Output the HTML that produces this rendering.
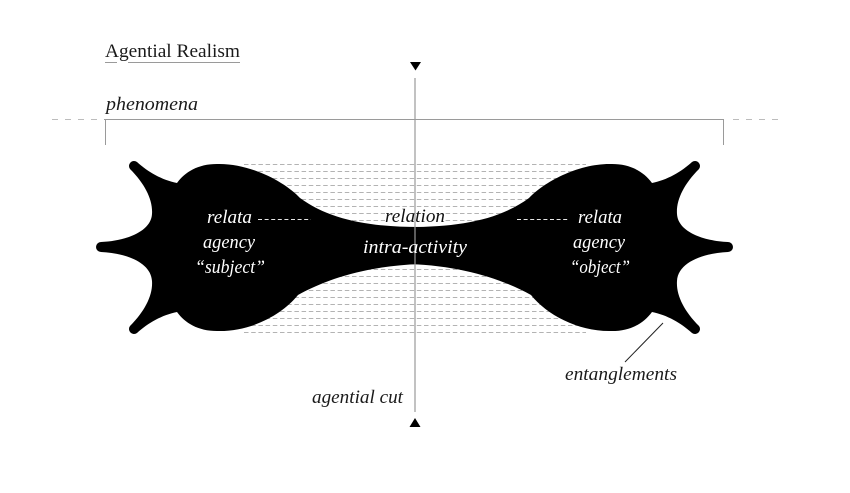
<!DOCTYPE html>
<html>
<head>
<meta charset="utf-8">
<style>
html,body{margin:0;padding:0;background:#fff;}
svg{display:block;}
text{font-family:"Liberation Serif","DejaVu Serif",serif;}
.it{font-style:italic;font-size:19px;}
</style>
</head>
<body>
<svg width="850" height="493" viewBox="0 0 850 493" xmlns="http://www.w3.org/2000/svg">
<defs>
<path id="half" d="M420,227 C370,227 330,220 300,198 C285,182 250,163 217,164 C198,164 185,172 177,183 C162,180 148,172 137,162 A5,5 0 0 0 130,169 C145,184 153,200 152,214 C151,232 125,241 101,242 A5,5 0 0 0 101,252 C125,253 151,262 152,281 C153,295 145,311 130,326 A5,5 0 0 0 137,333 C148,323 162,315 177,312 C185,323 198,331 217,331 C250,332 282,315 298,295 C325,280 365,266 420,264 Z"/>
</defs>

<!-- title -->
<text x="105" y="57" font-size="19" fill="#1a1a1a" textLength="135" lengthAdjust="spacingAndGlyphs">Agential Realism</text>
<path d="M105,62.5H117M128,62.5H240" stroke="#9a9a9a" stroke-width="1" fill="none"/>

<!-- phenomena -->
<text class="it" x="106" y="110" fill="#1a1a1a" textLength="92" lengthAdjust="spacingAndGlyphs">phenomena</text>
<path d="M104,119.5H724" stroke="#9a9a9a" stroke-width="1"/>
<path d="M52,119.5H100" stroke="#bcbcbc" stroke-width="1" stroke-dasharray="6 7"/>
<path d="M733,119.5H778" stroke="#bcbcbc" stroke-width="1" stroke-dasharray="6 7"/>
<path d="M105.5,119V145M723.5,119V145" stroke="#9a9a9a" stroke-width="1"/>

<!-- background dashed lines -->
<path stroke="#b3b3b3" stroke-width="1" stroke-dasharray="4.5 2.7" fill="none"
d="M244,164.5H586M244,171.5H586M244,178.5H586M244,185.5H586M244,192.5H586M244,199.5H586M244,206.5H586M244,213.5H586M244,220.5H586M244,227.5H586M244,234.5H586M244,241.5H586M244,248.5H586M244,255.5H586M244,262.5H586M244,269.5H586M244,276.5H586M244,283.5H586M244,290.5H586M244,297.5H586M244,304.5H586M244,311.5H586M244,318.5H586M244,325.5H586M244,332.5H586"/>

<!-- black shape -->
<use href="#half" fill="#000"/>
<use href="#half" fill="#000" transform="translate(829,0) scale(-1,1)"/>

<!-- knockout behind relation -->
<rect x="385" y="209" width="60" height="14" fill="#fff"/>

<!-- vertical cut line -->
<path d="M415,78V412" stroke="#9a9a9a" stroke-width="1.2"/>
<polygon points="410,62 421,62 415.5,70.5" fill="#000"/>
<polygon points="409.5,427 420.5,427 415,418" fill="#000"/>

<!-- relata dashes -->
<path d="M258,219.5H311M517,219.5H569" stroke="#e6e6e6" stroke-width="1" stroke-dasharray="4 2.6"/>

<!-- left texts -->
<text class="it" x="207" y="223" fill="#fff" textLength="45" lengthAdjust="spacingAndGlyphs">relata</text>
<text class="it" x="203" y="248" fill="#fff" textLength="52" lengthAdjust="spacingAndGlyphs">agency</text>
<text class="it" x="195" y="273" fill="#fff" textLength="70" lengthAdjust="spacingAndGlyphs">“subject”</text>

<!-- center texts -->
<text class="it" x="385" y="222" fill="#111" textLength="60" lengthAdjust="spacingAndGlyphs">relation</text>
<text class="it" x="363" y="253" fill="#fff" textLength="104" lengthAdjust="spacingAndGlyphs">intra-activity</text>

<!-- right texts -->
<text class="it" x="578" y="223" fill="#fff" textLength="44" lengthAdjust="spacingAndGlyphs">relata</text>
<text class="it" x="573" y="248" fill="#fff" textLength="52" lengthAdjust="spacingAndGlyphs">agency</text>
<text class="it" x="570" y="273" fill="#fff" textLength="60" lengthAdjust="spacingAndGlyphs">“object”</text>

<!-- entanglements -->
<path d="M663,323L625,362" stroke="#222" stroke-width="1"/>
<text class="it" x="565" y="380" fill="#1a1a1a" textLength="112" lengthAdjust="spacingAndGlyphs">entanglements</text>

<!-- agential cut -->
<text class="it" x="312" y="403" fill="#1a1a1a" textLength="91" lengthAdjust="spacingAndGlyphs">agential cut</text>
</svg>
</body>
</html>
